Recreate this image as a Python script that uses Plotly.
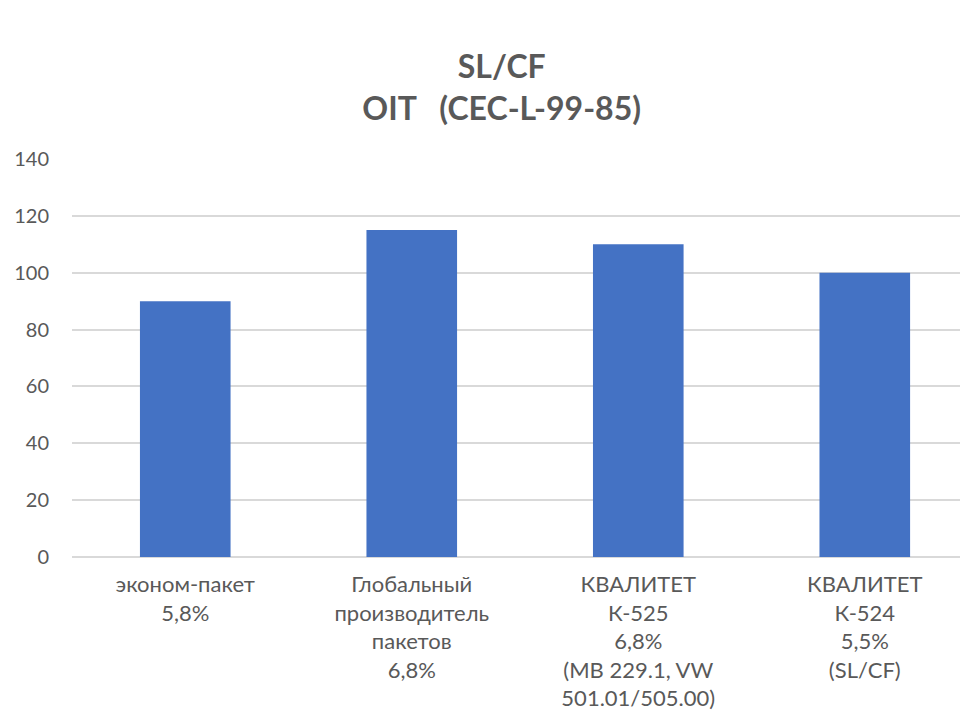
import plotly.graph_objects as go

categories = [
    "эконом-пакет<br>5,8%",
    "Глобальный<br>производитель<br>пакетов<br>6,8%",
    "КВАЛИТЕТ<br>К-525<br>6,8%<br>(MB 229.1, VW<br>501.01/505.00)",
    "КВАЛИТЕТ<br>К-524<br>5,5%<br>(SL/CF)",
]
values = [90, 115, 110, 100]
y_ticks = [0, 20, 40, 60, 80, 100, 120, 140]

FONT = "Lato"
GREY = "#595959"

fig = go.Figure(
    go.Bar(
        x=categories,
        y=values,
        marker=dict(color="#4472C4", line=dict(width=0)),
    )
)

fig.update_layout(
    width=968,
    height=715,
    paper_bgcolor="white",
    plot_bgcolor="white",
    margin=dict(l=64, r=0, t=151, b=166),
    bargap=0.6,
    showlegend=False,
    title=dict(
        text="<b>SL/CF</b><br><b>OIT   (CEC-L-99-85)</b>",
        x=0.51,
        xanchor="center",
        y=0.902,
        yref="container",
        yanchor="middle",
        font=dict(family=FONT, size=32, color=GREY),
    ),
    font=dict(family=FONT, color=GREY),
)

fig.update_xaxes(
    range=[-0.5, 3.491],
    showgrid=False,
    showline=False,
    ticks="",
    tickfont=dict(family=FONT, size=22, color=GREY),
    ticklabelstandoff=12,
    fixedrange=True,
)
fig.update_yaxes(
    range=[0, 140],
    tickvals=y_ticks,
    showgrid=True,
    gridcolor="#D9D9D9",
    gridwidth=1.5,
    zeroline=True,
    zerolinecolor="#D9D9D9",
    zerolinewidth=1.5,
    ticks="",
    tickfont=dict(family=FONT, size=20, color=GREY),
    ticklabelstandoff=22,
)

fig.write_html("out.html")
